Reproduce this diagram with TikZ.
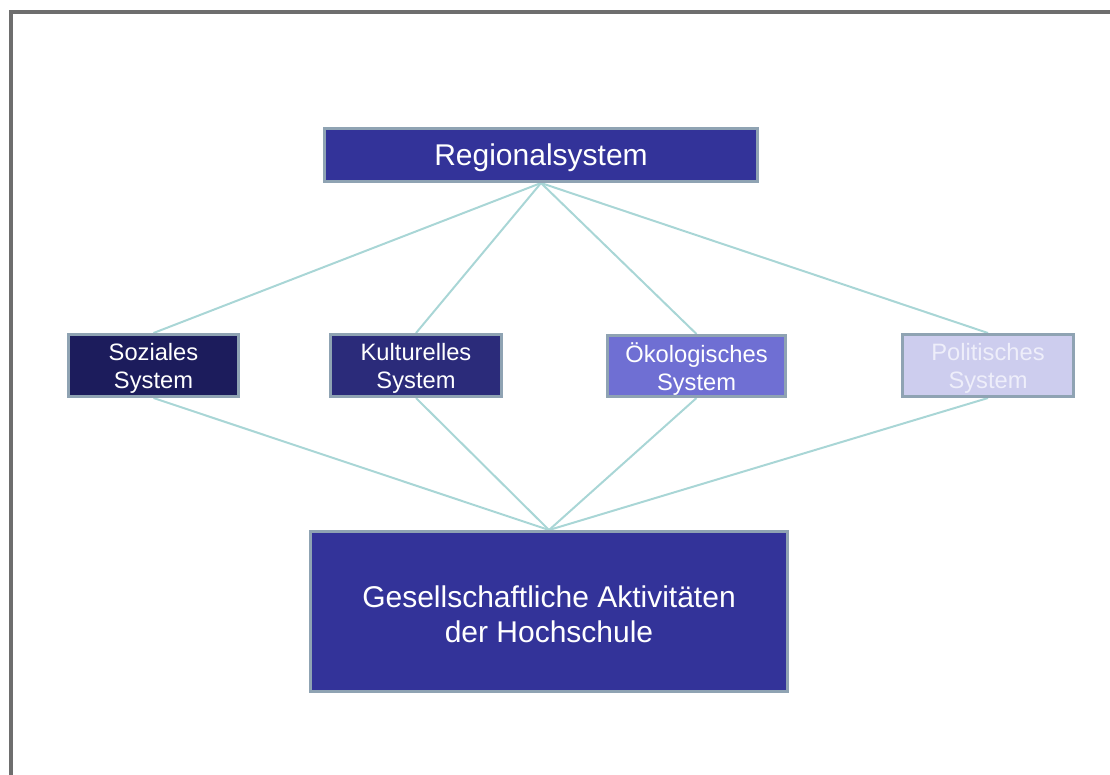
\documentclass[tikz,border=0pt]{standalone}
\usepackage{fontspec}
\setmainfont{Liberation Sans}
\usetikzlibrary{backgrounds}
\definecolor{frame}{HTML}{6E6E6E}
\definecolor{boxborder}{HTML}{8FA3B3}
\definecolor{conn}{HTML}{A9D6D6}
\definecolor{fillA}{HTML}{333399}
\definecolor{fillSoz}{HTML}{1C1C5C}
\definecolor{fillKul}{HTML}{2B2B7A}
\definecolor{fillOek}{HTML}{6F6FD3}
\definecolor{fillPol}{HTML}{CDCDEE}
\definecolor{txtPol}{HTML}{EEEEFA}
\tikzset{
  boxbase/.style={draw=boxborder, line width=3pt, inner sep=0pt},
  smalltext/.style={align=center, text=white, inner sep=0pt, yshift=-3pt,
    font=\fontsize{23.7}{28.5}\selectfont},
  bigtext/.style={align=center, text=white, inner sep=0pt, yshift=-3pt,
    font=\fontsize{30}{35}\selectfont},
  sysbox/.style={boxbase, minimum height=62pt},
  bigbox/.style={boxbase, fill=fillA},
  link/.style={draw=conn, line width=2pt}
}
\begin{document}
\begin{tikzpicture}[x=1pt,y=-1pt]
\useasboundingbox (0,0) rectangle (1110,774);
\draw[frame, line width=4pt] (10.5,790) -- (10.5,12) -- (1125,12);
\node[bigbox, minimum width=433pt, minimum height=53pt,
  label={[bigtext]center:Regionalsystem}] (reg) at (541,155) {};
\node[sysbox, fill=fillSoz, minimum width=170pt,
  label={[smalltext]center:Soziales\\System}] (soz) at (153.5,365.5) {};
\node[sysbox, fill=fillKul, minimum width=171pt,
  label={[smalltext]center:Kulturelles\\System}] (kul) at (416,365.5) {};
\node[sysbox, fill=fillOek, minimum width=178pt, minimum height=61pt,
  label={[smalltext]center:Ökologisches\\System}] (oek) at (696.5,366) {};
\node[sysbox, fill=fillPol, minimum width=171pt,
  label={[smalltext, text=txtPol]center:Politisches\\System}] (pol) at (988,365.5) {};
\node[bigbox, minimum width=477pt, minimum height=160pt,
  label={[bigtext]center:Gesellschaftliche Aktivitäten\\der Hochschule}] (ges) at (549,611.5) {};
\begin{scope}[on background layer]
\draw[link] (reg.south) -- (soz.north);
\draw[link] (reg.south) -- (kul.north);
\draw[link] (reg.south) -- (oek.north);
\draw[link] (reg.south) -- (pol.north);
\draw[link] (soz.south) -- (ges.north);
\draw[link] (kul.south) -- (ges.north);
\draw[link] (oek.south) -- (ges.north);
\draw[link] (pol.south) -- (ges.north);
\end{scope}
\end{tikzpicture}
\end{document}
